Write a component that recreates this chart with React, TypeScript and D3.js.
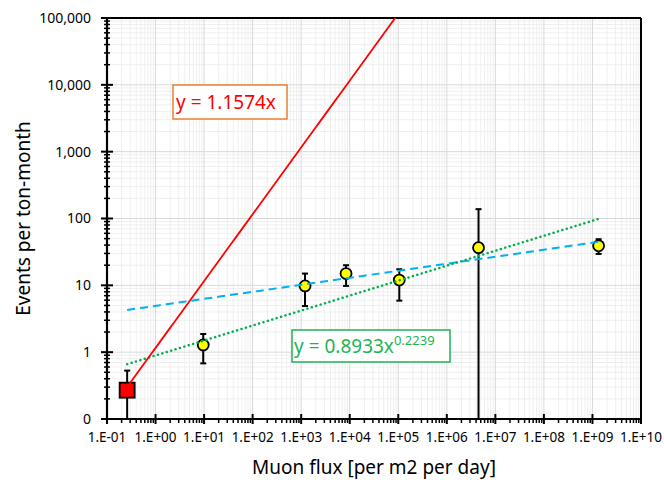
import React from "react";
import * as d3 from "d3";

// Data
const fluxValues = [9.6, 1200, 8400, 1.05e5, 4.5e6, 1.34e9];
const eventValues = [1.28, 9.8, 15, 12, 36.6, 39];
const errorHigh = [1.87, 15, 20, 17.4, 138, 49];
const errorLow = [0.68, 4.9, 9.8, 5.9, 0, 29.5];

const redFlux = [0.26];
const redEvents = [0.27];
const redErrHigh = [0.53];
const redErrLow = [0];

const xTickValues = [1e-1, 1e0, 1e1, 1e2, 1e3, 1e4, 1e5, 1e6, 1e7, 1e8, 1e9, 1e10];
const xTickLabels = ["1.E-01", "1.E+00", "1.E+01", "1.E+02", "1.E+03", "1.E+04", "1.E+05", "1.E+06", "1.E+07", "1.E+08", "1.E+09", "1.E+10"];
const yTickValues = [0.1, 1, 10, 100, 1000, 10000, 100000];
const yTickLabels = ["0", "1", "10", "100", "1,000", "10,000", "100,000"];

// Trendline parameters
const redFit = { a: 1.1574, b: 1 };
const greenFit = { a: 0.8933, b: 0.2239 };
const blueFit = { a: 4.93, b: 0.105 };
const fitRange = [0.26, 1.34e9];

const W = 664;
const H = 480;
const L = 107;
const R = 641;
const T = 18;
const B = 419;

export default function App() {
  const x = d3.scaleLog().domain([0.1, 1e10]).range([L, R]);
  const y = d3.scaleLog().domain([0.1, 1e5]).range([B, T]);
  const yc = (v: number) => (v <= 0.1 ? B : y(v));

  const xMinor: number[] = [];
  for (let e = -1; e < 10; e++) for (let k = 2; k <= 9; k++) xMinor.push(k * Math.pow(10, e));
  const yMinor: number[] = [];
  for (let e = -1; e < 5; e++) for (let k = 2; k <= 9; k++) yMinor.push(k * Math.pow(10, e));

  const fitPath = (f: { a: number; b: number }, x0: number, x1: number) => {
    const pts: [number, number][] = [];
    const n = 60;
    for (let i = 0; i <= n; i++) {
      const lx = Math.log10(x0) + ((Math.log10(x1) - Math.log10(x0)) * i) / n;
      const xv = Math.pow(10, lx);
      pts.push([x(xv), y(f.a * Math.pow(xv, f.b))]);
    }
    return d3.line()(pts) || "";
  };

  const redEnd = Math.min(fitRange[1], Math.pow(2e5 / redFit.a, 1 / redFit.b));
  const font = "'Noto Sans', sans-serif";

  return (
    <svg width={W} height={H} style={{ position: "absolute", left: 0, top: 0, background: "#fff" }}>
      <defs>
        <clipPath id="plot">
          <rect x={L} y={T} width={R - L} height={B - T} />
        </clipPath>
      </defs>
      <rect x={0} y={0} width={W} height={H} fill="#fff" />
      {/* minor gridlines */}
      {xMinor.map((v, i) => (
        <line key={"xm" + i} x1={x(v)} x2={x(v)} y1={T} y2={B} stroke="#efefef" strokeWidth={1} />
      ))}
      {yMinor.map((v, i) => (
        <line key={"ym" + i} x1={L} x2={R} y1={y(v)} y2={y(v)} stroke="#efefef" strokeWidth={1} />
      ))}
      {/* major gridlines */}
      {xTickValues.map((v, i) => (
        <line key={"xg" + i} x1={x(v)} x2={x(v)} y1={T} y2={B} stroke="#d9d9d9" strokeWidth={1} />
      ))}
      {yTickValues.map((v, i) => (
        <line key={"yg" + i} x1={L} x2={R} y1={y(v)} y2={y(v)} stroke="#d9d9d9" strokeWidth={1} />
      ))}
      {/* frame */}
      <line x1={L} x2={R} y1={T} y2={T} stroke="#000" strokeWidth={2} />
      <line x1={R} x2={R} y1={T} y2={B} stroke="#000" strokeWidth={2} />

      {/* error bars */}
      {fluxValues.map((fv, i) => {
        const cx = x(fv);
        return (
          <g key={"e" + i} stroke="#000" strokeWidth={2}>
            <line x1={cx} x2={cx} y1={y(errorHigh[i])} y2={yc(errorLow[i])} />
            <line x1={cx - 3} x2={cx + 3} y1={y(errorHigh[i])} y2={y(errorHigh[i])} />
            {errorLow[i] > 0.1 && <line x1={cx - 3} x2={cx + 3} y1={y(errorLow[i])} y2={y(errorLow[i])} />}
          </g>
        );
      })}
      {redFlux.map((fv, i) => {
        const cx = x(fv);
        return (
          <g key={"re" + i} stroke="#000" strokeWidth={2}>
            <line x1={cx} x2={cx} y1={y(redErrHigh[i])} y2={yc(redErrLow[i])} />
            <line x1={cx - 3} x2={cx + 3} y1={y(redErrHigh[i])} y2={y(redErrHigh[i])} />
          </g>
        );
      })}
      {/* markers */}
      {fluxValues.map((fv, i) => (
        <circle key={"c" + i} cx={x(fv)} cy={y(eventValues[i])} r={5.5} fill="#ffff00" stroke="#000" strokeWidth={1.8} />
      ))}
      {redFlux.map((fv, i) => (
        <rect key={"s" + i} x={x(fv) - 7.5} y={y(redEvents[i]) - 7.5} width={15} height={15} fill="#ff0000" stroke="#000" strokeWidth={1.8} />
      ))}

      {/* trendlines */}
      <g clipPath="url(#plot)" fill="none">
        <path d={fitPath(blueFit, fitRange[0], fitRange[1])} stroke="#00b0f0" strokeWidth={2} strokeDasharray="8,5" />
        <path d={fitPath(greenFit, fitRange[0], fitRange[1])} stroke="#00b050" strokeWidth={2.5} strokeDasharray="0.1,4.5" strokeLinecap="round" />
        <path d={fitPath(redFit, fitRange[0], redEnd)} stroke="#ff0000" strokeWidth={1.8} />
      </g>

      {/* axes */}
      <line x1={L} x2={L} y1={T - 1} y2={B + 1} stroke="#000" strokeWidth={2.2} />
      <line x1={L - 1} x2={R + 1} y1={B} y2={B} stroke="#000" strokeWidth={2.2} />
      {xMinor.map((v, i) => (
        <line key={"xt" + i} x1={x(v)} x2={x(v)} y1={B} y2={B + 4} stroke="#000" strokeWidth={1.5} />
      ))}
      {xTickValues.map((v, i) => (
        <line key={"xT" + i} x1={x(v)} x2={x(v)} y1={B - 5} y2={B + 5} stroke="#000" strokeWidth={2} />
      ))}
      {yMinor.map((v, i) => (
        <line key={"yt" + i} x1={L - 3} x2={L + 3} y1={y(v)} y2={y(v)} stroke="#000" strokeWidth={1.5} />
      ))}
      {yTickValues.map((v, i) => (
        <line key={"yT" + i} x1={L - 6} x2={L + 6} y1={y(v)} y2={y(v)} stroke="#000" strokeWidth={2} />
      ))}

      {/* tick labels */}
      {xTickValues.map((v, i) => (
        <text key={"xl" + i} x={x(v)} y={B + 23} textAnchor="middle" fontFamily={font} fontSize={13.5} fill="#000">
          {xTickLabels[i]}
        </text>
      ))}
      {yTickValues.map((v, i) => (
        <text key={"yl" + i} x={L - 16} y={y(v)} dy="0.35em" textAnchor="end" fontFamily={font} fontSize={14} fill="#000">
          {yTickLabels[i]}
        </text>
      ))}

      {/* axis titles */}
      <text x={374} y={474} textAnchor="middle" fontFamily={font} fontSize={19} fill="#000">
        Muon flux [per m2 per day]
      </text>
      <text transform={`translate(30,${(T + B) / 2}) rotate(-90)`} textAnchor="middle" fontFamily={font} fontSize={19} fill="#000">
        Events per ton-month
      </text>

      {/* equation labels */}
      <rect x={173} y={85} width={114} height={34} fill="#fff" stroke="#ed7d31" strokeWidth={1.5} />
      <text x={176} y={109} fontFamily={font} fontSize={19} fill="#ff0000">
        y = 1.1574x
      </text>
      <rect x={292} y={330} width={158} height={32} fill="#fff" stroke="#1db356" strokeWidth={1.5} />
      <text x={294} y={353} fontFamily={font} fontSize={19} fill="#1db356">
        y = 0.8933x
        <tspan dy={-8} fontSize={13}>0.2239</tspan>
      </text>
    </svg>
  );
}
